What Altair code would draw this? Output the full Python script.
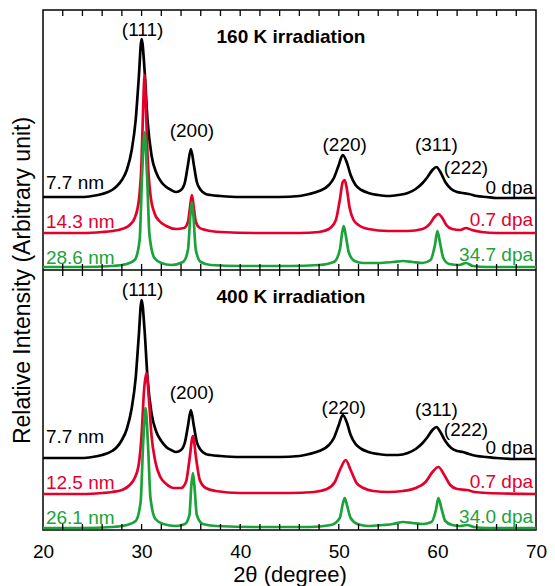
import altair as alt
import pandas as pd

# ---------------- data ----------------
# 2θ (degree) and relative intensity (arbitrary units, measured from each panel's bottom)

# --- 160 K irradiation (upper panel) ---
k160_black_x = [20, 22, 24, 25, 26, 27, 27.5, 28, 28.5, 29, 29.4, 29.7, 30.0, 30.3, 30.6, 31.0, 31.5, 32, 32.5, 33,
                33.5, 34, 34.4, 34.7, 35.0, 35.3, 35.6, 36, 36.5, 37, 38, 40, 42, 44, 46, 47, 48, 49, 49.5, 50, 50.4,
                50.8, 51.2, 51.7, 52.3, 53, 54, 55, 56, 57, 57.8, 58.5, 59, 59.5, 59.9, 60.3, 60.8, 61.4, 62, 62.6,
                63.2, 64, 65, 66, 68, 70]
k160_black_y = [73, 73, 73, 74, 76, 80, 84, 90, 100, 120, 150, 190, 231, 200, 150, 115, 97, 88, 83, 80,
                78, 80, 88, 105, 121, 105, 88, 80, 76, 75, 74, 73, 73, 73, 74, 76, 79, 85, 92, 105, 115,
                108, 95, 85, 80, 77, 75, 74, 75, 77, 81, 87, 93, 100, 103, 98, 88, 81, 78, 77,
                76, 74, 73, 72, 72, 72]

k160_red_x = [20, 24, 26, 27, 28, 28.8, 29.3, 29.7, 30.0, 30.15, 30.3, 30.45, 30.6, 30.9, 31.3, 31.8, 32.5, 33.5,
              34.3, 34.7, 34.9, 35.1, 35.3, 35.5, 35.9, 36.5, 38, 42, 46, 48, 49, 49.7, 50.1, 50.4, 50.6, 50.8,
              51.1, 51.5, 52, 53, 55, 57, 58.5, 59.3, 59.7, 60.1, 60.5, 60.9, 61.5, 62.3, 62.9, 63.5, 64.5, 66, 70]
k160_red_y = [37, 37, 38, 39, 41, 45, 52, 68, 110, 160, 195, 160, 115, 75, 57, 49, 44, 41,
              42, 48, 62, 75, 62, 48, 42, 40, 38, 37, 37, 38, 41, 50, 70, 88, 90, 82,
              62, 50, 45, 41, 39, 39, 41, 47, 53, 56, 52, 45, 41, 40, 42, 40, 38, 37, 37]

k160_green_x = [20, 24, 27, 28.5, 29.3, 29.8, 30.05, 30.3, 30.55, 30.8, 31.3, 32, 33, 34.2, 34.7, 34.95, 35.1,
                35.25, 35.5, 36, 37, 40, 45, 48, 49.5, 50.1, 50.35, 50.5, 50.7, 51.0, 51.6, 52.5, 54, 55.5,
                56.5, 57.5, 58.5, 59.3, 59.75, 60.0, 60.25, 60.6, 61.2, 62.2, 62.9, 63.6, 65, 70]
k160_green_y = [3, 3, 4, 6, 10, 30, 95, 138, 95, 35, 12, 7, 5, 8, 20, 55, 68,
                55, 20, 8, 5, 4, 4, 5, 8, 20, 38, 44, 35, 18, 9, 7, 7, 8,
                9, 8, 7, 10, 25, 39, 28, 12, 6, 5, 7, 4, 3, 3]

# --- 400 K irradiation (lower panel) ---
k400_black_x = [20, 22, 24, 25, 26, 27, 27.5, 28, 28.5, 29, 29.4, 29.7, 30.0, 30.3, 30.6, 31.0, 31.5, 32, 32.5, 33,
                33.5, 34, 34.4, 34.7, 35.0, 35.3, 35.6, 36, 36.5, 37, 38, 40, 42, 44, 46, 47, 48, 49, 49.5, 50, 50.4,
                50.8, 51.2, 51.7, 52.3, 53, 54, 55, 56, 57, 57.8, 58.5, 59, 59.5, 59.9, 60.3, 60.8, 61.4, 62, 62.6,
                63.2, 64, 65, 66, 68, 70]
k400_black_y = [72, 72, 72, 73, 75, 79, 83, 90, 101, 122, 152, 192, 230, 200, 152, 117, 98, 89, 83, 80,
                78, 80, 88, 104, 120, 104, 88, 80, 76, 75, 74, 73, 73, 73, 74, 76, 79, 85, 92, 105, 115,
                108, 95, 86, 81, 78, 76, 75, 75, 77, 81, 87, 93, 100, 103, 98, 89, 82, 79, 78,
                76, 74, 73, 72, 71, 71]

k400_red_x = [20, 24, 26, 27, 28, 28.8, 29.3, 29.7, 30.0, 30.25, 30.5, 30.75, 31.0, 31.4, 31.9, 32.5, 33.3, 34.0,
              34.5, 34.85, 35.2, 35.55, 35.9, 36.5, 37.5, 40, 45, 47.5, 48.8, 49.6, 50.2, 50.7, 51.2, 51.8, 52.5,
              53.5, 55, 56.5, 57.8, 58.8, 59.5, 60.1, 60.7, 61.3, 62.0, 63.0, 63.8, 65, 70]
k400_red_y = [36, 36, 37, 38, 40, 45, 52, 65, 95, 140, 157, 130, 95, 68, 53, 46, 42, 42,
              48, 70, 94, 70, 50, 42, 39, 37, 37, 38, 41, 48, 62, 70, 60, 47, 42,
              39, 38, 39, 42, 48, 58, 63, 55, 45, 41, 40, 38, 37, 36]

k400_green_x = [20, 24, 27, 28.5, 29.4, 29.9, 30.15, 30.4, 30.65, 30.9, 31.4, 32.2, 33.5, 34.4, 34.85, 35.05,
                35.2, 35.35, 35.6, 36.2, 37.5, 42, 47, 49.2, 50.1, 50.4, 50.6, 50.85, 51.2, 51.9, 53, 54.5,
                55.5, 56.5, 57.5, 58.5, 59.4, 59.85, 60.1, 60.4, 60.8, 61.5, 62.3, 63.0, 63.7, 65, 70]
k400_green_y = [2, 2, 3, 5, 9, 28, 85, 122, 85, 32, 11, 6, 4, 6, 15, 45,
                57, 45, 15, 6, 4, 3, 3, 5, 12, 26, 32, 24, 12, 6, 4, 5,
                6, 8, 7, 6, 8, 20, 32, 22, 9, 5, 4, 5, 3, 2, 2]

# annotations
peak_names = ["(111)", "(200)", "(220)", "(311)", "(222)"]
k160_peak_x = [30.1, 35.1, 50.6, 59.9, 62.9]
k160_peak_y = [240, 139, 125, 125, 102]
k400_peak_x = [30.1, 35.1, 50.5, 59.9, 62.9]
k400_peak_y = [240, 137, 122, 120, 100]

conditions = ["160 K irradiation", "400 K irradiation"]
condition_x = [37.6, 37.6]
condition_y = [233, 233]

k160_sizes = ["7.7 nm", "14.3 nm", "28.6 nm"]
k160_size_y = [87, 48, 12]
k160_doses = ["0 dpa", "0.7 dpa", "34.7 dpa"]
k160_dose_y = [82, 50, 15]
k400_sizes = ["7.7 nm", "12.5 nm", "26.1 nm"]
k400_size_y = [93, 47, 12]
k400_doses = ["0 dpa", "0.7 dpa", "34.0 dpa"]
k400_dose_y = [82, 48, 13]

series_keys = ["k", "r", "g"]
series_colors = ["#000000", "#E4002B", "#1BA23A"]
tick_positions = list(range(22, 70, 2))
x_labels = [20, 30, 40, 50, 60, 70]

PANEL = 260  # height of each panel in intensity units
# ---------------- build tables ----------------
rows = []
curves = [
    ("160", "k", k160_black_x, k160_black_y), ("160", "r", k160_red_x, k160_red_y),
    ("160", "g", k160_green_x, k160_green_y),
    ("400", "k", k400_black_x, k400_black_y), ("400", "r", k400_red_x, k400_red_y),
    ("400", "g", k400_green_x, k400_green_y),
]
for panel, key, xs, ys in curves:
    off = PANEL if panel == "160" else 0
    for xv, yv in zip(xs, ys):
        rows.append({"id": panel + key, "c": key, "x": xv, "y": yv + off})
curve_df = pd.DataFrame(rows)

peak_rows = []
for nm, xv, yv in zip(peak_names, k160_peak_x, k160_peak_y):
    peak_rows.append({"t": nm, "x": xv, "y": yv + PANEL})
for nm, xv, yv in zip(peak_names, k400_peak_x, k400_peak_y):
    peak_rows.append({"t": nm, "x": xv, "y": yv})
peak_df = pd.DataFrame(peak_rows)

cond_df = pd.DataFrame({"t": conditions, "x": condition_x,
                        "y": [condition_y[0] + PANEL, condition_y[1]]})

left_rows, right_rows = [], []
for key, t, yv in zip(series_keys, k160_sizes, k160_size_y):
    left_rows.append({"t": t, "c": key, "x": 20.3, "y": yv + PANEL})
for key, t, yv in zip(series_keys, k400_sizes, k400_size_y):
    left_rows.append({"t": t, "c": key, "x": 20.3, "y": yv})
for key, t, yv in zip(series_keys, k160_doses, k160_dose_y):
    right_rows.append({"t": t, "c": key, "x": 69.7, "y": yv + PANEL})
for key, t, yv in zip(series_keys, k400_doses, k400_dose_y):
    right_rows.append({"t": t, "c": key, "x": 69.7, "y": yv})
left_df = pd.DataFrame(left_rows)
right_df = pd.DataFrame(right_rows)

tick_rows = []
for tx in tick_positions:
    tick_rows.append({"x": tx, "y": 2 * PANEL, "y2": 2 * PANEL - 6})
    tick_rows.append({"x": tx, "y": PANEL, "y2": PANEL - 6})
    tick_rows.append({"x": tx, "y": PANEL, "y2": PANEL + 6})
    tick_rows.append({"x": tx, "y": 0, "y2": 6})
tick_df = pd.DataFrame(tick_rows)
divider_df = pd.DataFrame({"x": [20], "x2": [70], "y": [PANEL]})

# ---------------- encodings ----------------
X = alt.X("x:Q", scale=alt.Scale(domain=[20, 70], nice=False, zero=False),
          axis=alt.Axis(values=x_labels, ticks=False, domain=False, grid=False,
                        labelFontSize=19, labelPadding=12, labelColor="black", labelFlush=False,
                        labelOverlap=False,
                        title="2θ (degree)", titleFontSize=22, titleFontWeight="normal",
                        titlePadding=3, titleColor="black"))
Y = alt.Y("y:Q", scale=alt.Scale(domain=[0, 2 * PANEL], nice=False, zero=False),
          axis=alt.Axis(labels=False, ticks=False, domain=False, grid=False,
                        title="Relative Intensity (Arbitrary unit)", titleFontSize=23,
                        titleFontWeight="normal", titleColor="black",
                        titleX=-21, titleY=PANEL + 10, titleAngle=270,
                        titleAlign="center", titleBaseline="middle"))
C = alt.Color("c:N", scale=alt.Scale(domain=series_keys, range=series_colors), legend=None)

lines = alt.Chart(curve_df).mark_line(strokeWidth=2.7, interpolate="monotone").encode(
    x=X, y=Y, color=C, detail="id:N")

ticks = alt.Chart(tick_df).mark_rule(color="black", strokeWidth=1.3).encode(
    x="x:Q", y="y:Q", y2="y2:Q")
divider = alt.Chart(divider_df).mark_rule(color="black", strokeWidth=1.5).encode(
    x="x:Q", x2="x2:Q", y="y:Q")

peaks = alt.Chart(peak_df).mark_text(fontSize=19, color="black", baseline="middle").encode(
    x="x:Q", y="y:Q", text="t:N")
conds = alt.Chart(cond_df).mark_text(fontSize=19, fontWeight="bold", color="black",
                                     align="left", baseline="middle").encode(
    x="x:Q", y="y:Q", text="t:N")
lefts = alt.Chart(left_df).mark_text(fontSize=19, align="left", baseline="middle").encode(
    x="x:Q", y="y:Q", text="t:N", color=C)
rights = alt.Chart(right_df).mark_text(fontSize=19, align="right", baseline="middle").encode(
    x="x:Q", y="y:Q", text="t:N", color=C)

chart = alt.layer(lines, ticks, divider, peaks, conds, lefts, rights).properties(
    width=493, height=520,
    padding={"left": 35, "top": 2, "right": 11, "bottom": 56},
    autosize=alt.AutoSizeParams(type="none"),
).configure(font="Liberation Sans").configure_view(stroke="black", strokeWidth=1.5)

chart.save("out.html", embed_options={"renderer": "svg", "actions": False})
